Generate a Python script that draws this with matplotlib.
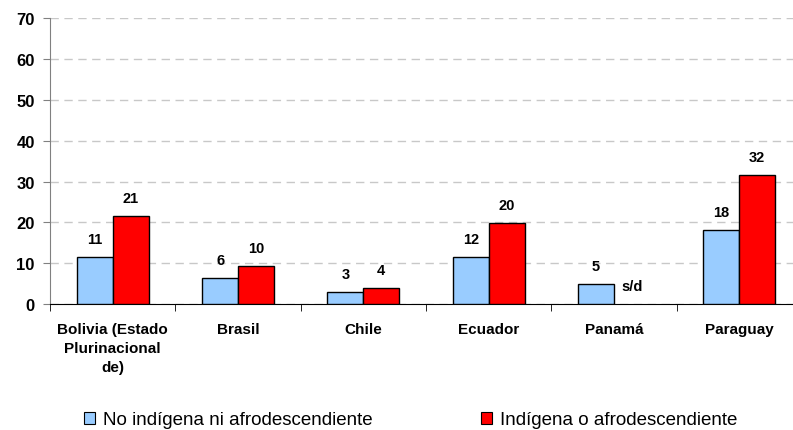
import numpy as np
import matplotlib
matplotlib.use('Agg')
from matplotlib import pyplot as plt
from matplotlib.patches import Patch

plt.rcParams['font.family'] = ['Liberation Sans', 'DejaVu Sans']

# data (Panamá has no data for the second series)
paises = ['Bolivia (Estado\nPlurinacional\nde)', 'Brasil', 'Chile', 'Ecuador', 'Panamá', 'Paraguay']
no_indigena = [11.4, 6.3, 2.9, 11.4, 5.0, 18.2]
indigena = [21.5, 9.4, 4.0, 19.8, np.nan, 31.6]
etiq_no_indigena = ['11', '6', '3', '12', '5', '18']
etiq_indigena = ['21', '10', '4', '20', 's/d', '32']

azul = '#99CCFF'
rojo = '#FF0000'

fig = plt.figure(figsize=(7.93, 4.31), dpi=100)
ax = fig.add_axes([50 / 793, 1 - 305 / 431, 752 / 793, (305 - 19.3) / 431])

x = np.arange(len(paises))
w = 0.286
b1 = ax.bar(x - w / 2, no_indigena, w, color=azul, edgecolor='black', linewidth=1, zorder=3)
b2 = ax.bar(x + w / 2, indigena, w, color=rojo, edgecolor='black', linewidth=1, zorder=3)

for barras, etiquetas in [(b1, etiq_no_indigena), (b2, etiq_indigena)]:
    for rect, txt in zip(barras, etiquetas):
        h = rect.get_height()
        if np.isnan(h):
            h = 0
        ax.annotate(txt, (rect.get_x() + rect.get_width() / 2, h),
                    xytext=(0, 13), textcoords='offset points', ha='center', va='center',
                    fontsize=10.5, fontweight='bold')

ax.set_xlim(-0.5, len(paises) - 0.5)
ax.set_ylim(0, 70)
ax.set_yticks(range(0, 71, 10))
ax.tick_params(axis='y', labelsize=12, length=5, pad=6, color='#808080')
for t in ax.get_yticklabels():
    t.set_fontweight('bold')

ax.set_xticks(x)
ax.set_xticklabels(paises, fontsize=11, fontweight='bold', linespacing=1.45)
ax.set_xticks(np.arange(-0.5, len(paises), 1), minor=True)
ax.tick_params(axis='x', which='major', length=0, pad=13)
ax.tick_params(axis='x', which='minor', length=5, color='black')

ax.yaxis.grid(True, color='#c8c8c8', linestyle=(0, (6, 4)), linewidth=1, zorder=0)
ax.set_axisbelow(True)
for s in ['top', 'right']:
    ax.spines[s].set_visible(False)
ax.spines['left'].set_color('#808080')
ax.spines['bottom'].set_color('black')

handles = [Patch(facecolor=azul, edgecolor='black', linewidth=0.8),
           Patch(facecolor=rojo, edgecolor='black', linewidth=0.8)]
fig.legend(handles, ['No indígena ni afrodescendiente', 'Indígena o afrodescendiente'],
           loc='center', bbox_to_anchor=(411 / 793, 1 - 421 / 431), ncol=2, frameon=False,
           fontsize=13.5, handlelength=0.57, handleheight=0.57, handletextpad=0.43,
           columnspacing=5.8, borderpad=0, borderaxespad=0)

fig.savefig('out.png', dpi=100)
